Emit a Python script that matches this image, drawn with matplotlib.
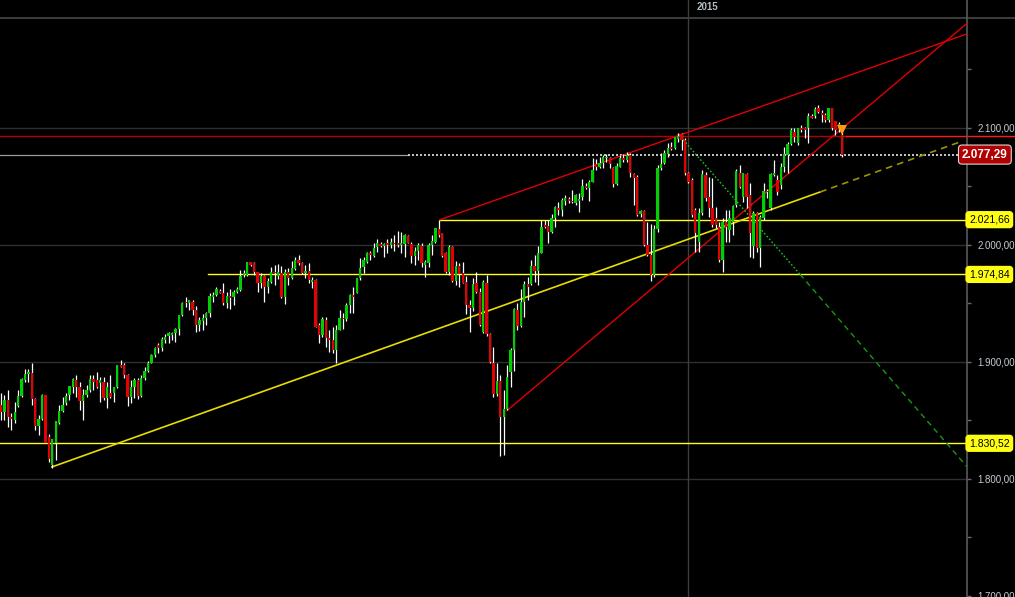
import matplotlib
matplotlib.use("Agg")
import matplotlib.pyplot as plt
from matplotlib.ticker import FixedLocator, FuncFormatter

# ---------------- data (daily candles) ----------------
opens = [
    1863.3, 1857.6, 1867.5, 1852.7, 1850.4, 1862.4, 1870.9, 1884.6, 1889.5, 1890.9,
    1868.1, 1845.6, 1851.0, 1871.8, 1835.6, 1812.0, 1831.1, 1847.6, 1858.1, 1865.2,
    1871.8, 1878.9, 1884.6, 1878.9, 1866.9, 1871.8, 1876.1, 1885.2, 1884.6, 1881.8,
    1883.2, 1869.0, 1873.2, 1873.2, 1878.3, 1897.5, 1897.5, 1888.9, 1870.4, 1878.9,
    1884.6, 1870.9, 1886.1, 1892.6, 1899.4, 1905.7, 1914.5, 1911.7, 1918.8, 1922.2,
    1923.1, 1924.5, 1927.9, 1940.2, 1951.6, 1950.7, 1951.6, 1944.4, 1931.6, 1935.3,
    1937.3, 1942.1, 1955.8, 1957.3, 1961.0, 1959.2, 1950.7, 1956.4, 1955.8, 1960.1,
    1961.5, 1974.4, 1974.4, 1985.2, 1984.3, 1977.2, 1967.2, 1973.5, 1963.8, 1968.6,
    1977.2, 1973.5, 1975.8, 1955.3, 1977.2, 1971.5, 1979.2, 1987.2, 1984.3, 1976.3,
    1978.1, 1968.6, 1970.1, 1931.6, 1923.1, 1935.9, 1920.2, 1918.8, 1910.3, 1927.3,
    1937.9, 1936.5, 1948.7, 1957.3, 1959.3, 1971.5, 1981.2, 1985.8, 1992.9, 1990.6,
    1998.0, 2000.8, 1999.1, 2001.4, 2000.0, 2002.0, 2002.0, 2000.0, 2000.8, 2007.7,
    2000.8, 1990.6, 1995.1, 1999.1, 1982.9, 1984.9, 2000.0, 2002.8, 2013.4, 2010.0,
    1992.9, 1977.2, 1998.6, 1969.5, 1982.0, 1976.3, 1968.6, 1948.7, 1945.9, 1967.8,
    1960.1, 1925.9, 1967.8, 1923.9, 1898.9, 1872.7, 1884.1, 1852.7, 1859.5, 1891.7,
    1910.3, 1944.4, 1930.8, 1951.6, 1966.7, 1966.7, 1982.0, 1978.1, 1993.5, 2017.1,
    2016.2, 2011.4, 2022.8, 2031.3, 2029.9, 2037.6, 2039.3, 2037.6, 2035.6, 2037.6,
    2041.3, 2050.7, 2049.0, 2053.6, 2069.0, 2067.0, 2069.8, 2074.1, 2074.1, 2065.5,
    2051.8, 2067.0, 2074.1, 2072.7, 2076.9, 2060.4, 2058.4, 2026.2, 2029.1, 2000.0,
    1991.5, 1974.4, 2013.7, 2066.1, 2069.8, 2077.5, 2084.0, 2083.2, 2091.0, 2094.6,
    2089.7, 2061.2, 2055.6, 2029.9, 2002.8, 2027.1, 2059.8, 2041.3, 2031.3, 2022.8,
    2015.7, 1987.2, 2019.9, 2012.8, 2019.9, 2034.2, 2061.2, 2041.3, 2060.4, 2042.7,
    1998.9, 2027.1, 1997.2, 2022.8, 2046.2, 2031.3, 2059.8, 2055.6, 2051.3, 2066.9,
    2076.9, 2086.1, 2096.9, 2086.9, 2099.7, 2099.7, 2099.7, 2110.5, 2110.5, 2116.8,
    2112.5, 2111.1, 2106.8, 2116.8, 2106.0, 2100.0, 2094.0,
]
highs = [
    1873.2, 1871.8, 1876.1, 1856.1, 1866.1, 1876.1, 1886.1, 1893.7, 1893.7, 1899.4,
    1868.9, 1854.7, 1872.7, 1871.8, 1838.5, 1833.9, 1849.6, 1862.9, 1869.8, 1873.2,
    1879.5, 1886.1, 1888.9, 1883.2, 1876.6, 1880.3, 1888.9, 1888.9, 1891.7, 1887.5,
    1887.5, 1883.2, 1888.9, 1878.9, 1897.5, 1901.7, 1899.4, 1889.8, 1884.6, 1886.1,
    1886.1, 1888.9, 1896.0, 1901.1, 1906.8, 1913.1, 1916.0, 1921.7, 1923.9, 1925.9,
    1925.9, 1928.8, 1940.2, 1951.6, 1955.8, 1953.0, 1953.0, 1947.8, 1938.2, 1941.0,
    1943.0, 1958.7, 1960.1, 1963.8, 1962.1, 1967.8, 1960.1, 1962.1, 1961.5, 1963.8,
    1978.6, 1978.6, 1985.8, 1985.8, 1985.8, 1977.2, 1975.8, 1974.4, 1971.5, 1981.5,
    1982.9, 1983.7, 1982.0, 1979.2, 1980.1, 1986.6, 1990.0, 1991.5, 1985.8, 1982.9,
    1984.3, 1972.9, 1970.7, 1933.0, 1938.2, 1938.2, 1927.4, 1930.2, 1931.6, 1944.4,
    1941.6, 1950.1, 1958.1, 1964.4, 1971.5, 1988.6, 1990.0, 1994.3, 1995.1, 2001.4,
    2004.8, 2002.8, 2001.4, 2004.8, 2005.7, 2008.5, 2012.2, 2011.4, 2009.4, 2008.5,
    2002.8, 1998.6, 2001.4, 2001.4, 1987.2, 2001.4, 2008.5, 2014.2, 2021.7, 2010.5,
    1994.3, 2000.0, 1999.1, 1986.6, 1984.3, 1985.8, 1973.5, 1953.0, 1971.5, 1977.2,
    1963.0, 1970.1, 1974.4, 1924.5, 1912.5, 1898.9, 1888.9, 1876.1, 1897.4, 1911.7,
    1945.9, 1950.1, 1962.1, 1969.5, 1972.4, 1987.2, 1991.5, 1999.1, 2021.4, 2021.4,
    2021.4, 2026.2, 2033.6, 2037.0, 2040.5, 2042.7, 2041.3, 2047.0, 2043.3, 2044.2,
    2056.4, 2052.7, 2055.6, 2074.1, 2073.5, 2075.5, 2076.9, 2077.5, 2075.5, 2066.9,
    2069.8, 2076.9, 2077.5, 2079.8, 2078.4, 2061.3, 2059.8, 2029.9, 2029.9, 2020.0,
    2017.7, 2017.1, 2068.4, 2078.4, 2081.2, 2086.9, 2088.3, 2092.6, 2095.4, 2095.4,
    2091.2, 2062.7, 2057.0, 2031.3, 2031.3, 2064.1, 2062.1, 2058.4, 2057.0, 2032.8,
    2019.9, 2022.8, 2029.9, 2029.9, 2034.2, 2064.9, 2068.4, 2061.2, 2061.2, 2052.7,
    2029.1, 2028.5, 2025.6, 2052.7, 2048.0, 2061.2, 2072.6, 2059.8, 2069.8, 2084.1,
    2088.3, 2099.7, 2099.7, 2100.3, 2102.6, 2101.1, 2112.5, 2111.7, 2118.2, 2119.7,
    2115.4, 2112.5, 2117.4, 2117.4, 2106.0, 2105.4, 2099.7,
]
lows = [
    1850.4, 1850.4, 1844.7, 1841.9, 1847.6, 1861.8, 1870.4, 1883.2, 1883.2, 1863.3,
    1841.9, 1837.6, 1850.4, 1830.5, 1814.8, 1809.1, 1816.2, 1847.0, 1857.6, 1863.3,
    1867.5, 1873.8, 1869.8, 1859.0, 1850.4, 1870.4, 1874.7, 1876.1, 1877.5, 1866.1,
    1867.5, 1860.4, 1868.9, 1866.1, 1877.5, 1895.4, 1886.1, 1862.4, 1864.7, 1869.0,
    1868.1, 1869.8, 1884.6, 1891.7, 1898.9, 1904.6, 1907.4, 1909.7, 1916.0, 1916.0,
    1918.8, 1917.4, 1923.1, 1939.3, 1947.3, 1944.4, 1940.2, 1925.9, 1926.8, 1927.4,
    1931.6, 1938.2, 1951.6, 1956.4, 1958.7, 1948.7, 1945.9, 1945.0, 1948.7, 1958.7,
    1961.0, 1972.4, 1973.5, 1982.0, 1974.4, 1959.8, 1963.0, 1951.6, 1959.2, 1967.8,
    1965.8, 1970.7, 1954.4, 1949.6, 1965.8, 1970.7, 1978.6, 1982.9, 1975.2, 1971.5,
    1967.8, 1962.9, 1929.6, 1916.5, 1921.7, 1913.1, 1908.8, 1908.0, 1898.9, 1927.3,
    1927.9, 1935.3, 1941.6, 1941.6, 1958.7, 1970.1, 1976.3, 1984.3, 1987.2, 1990.0,
    1994.3, 1998.0, 1990.0, 1993.4, 1997.2, 1995.1, 1998.6, 1992.9, 1990.0, 2001.4,
    1984.9, 1982.9, 1987.2, 1980.9, 1972.4, 1981.5, 1991.5, 2001.4, 2007.1, 1990.0,
    1975.8, 1974.4, 1968.6, 1965.8, 1963.8, 1967.2, 1941.0, 1925.9, 1943.9, 1958.7,
    1930.7, 1925.1, 1922.2, 1899.4, 1870.4, 1870.9, 1819.6, 1820.5, 1858.9, 1878.9,
    1892.6, 1927.4, 1929.6, 1938.2, 1953.0, 1965.8, 1968.6, 1965.8, 1993.4, 2014.2,
    2001.4, 2010.0, 2015.7, 2025.6, 2025.1, 2034.2, 2035.6, 2035.6, 2034.2, 2028.5,
    2038.5, 2048.1, 2037.6, 2053.6, 2064.1, 2065.5, 2065.5, 2070.7, 2065.5, 2049.9,
    2051.3, 2066.9, 2071.3, 2071.3, 2058.4, 2034.2, 2025.1, 2024.2, 1999.4, 1990.9,
    1969.2, 1972.9, 2010.8, 2064.1, 2069.0, 2075.5, 2081.2, 2082.1, 2088.3, 2081.2,
    2059.8, 2052.7, 2024.2, 1994.3, 1994.3, 2025.6, 2037.6, 2024.2, 2015.7, 2014.2,
    1985.8, 1977.2, 2002.8, 2002.8, 2008.5, 2032.8, 2048.4, 2037.0, 2031.3, 1990.0,
    1988.6, 1994.3, 1981.5, 2021.4, 2040.0, 2030.0, 2059.2, 2042.7, 2047.9, 2062.7,
    2061.2, 2085.5, 2088.3, 2085.5, 2096.9, 2091.2, 2086.9, 2108.3, 2108.3, 2112.5,
    2105.4, 2105.4, 2105.4, 2098.3, 2094.0, 2096.9, 2075.5,
]
closes = [
    1857.6, 1867.5, 1852.7, 1851.0, 1857.6, 1870.9, 1885.2, 1889.5, 1891.7, 1868.1,
    1845.6, 1851.0, 1871.8, 1831.1, 1817.1, 1833.9, 1849.6, 1858.4, 1863.3, 1870.9,
    1879.5, 1885.8, 1878.9, 1866.9, 1871.8, 1876.1, 1885.2, 1883.2, 1878.9, 1884.6,
    1869.0, 1878.9, 1869.8, 1878.3, 1897.5, 1896.0, 1888.9, 1870.4, 1878.3, 1884.6,
    1870.9, 1886.1, 1892.6, 1898.9, 1905.7, 1911.7, 1912.0, 1919.4, 1921.1, 1924.5,
    1925.1, 1927.9, 1940.2, 1950.7, 1950.1, 1953.0, 1944.4, 1931.6, 1935.9, 1937.3,
    1941.6, 1956.4, 1957.3, 1962.1, 1959.2, 1950.7, 1956.4, 1954.4, 1960.1, 1962.1,
    1973.5, 1976.3, 1985.2, 1982.9, 1977.2, 1967.2, 1973.5, 1963.8, 1969.5, 1977.2,
    1975.8, 1977.2, 1955.3, 1977.2, 1971.5, 1980.1, 1987.2, 1984.9, 1976.3, 1978.1,
    1970.1, 1970.1, 1930.2, 1923.1, 1936.5, 1920.2, 1918.8, 1910.3, 1927.4, 1937.3,
    1936.5, 1948.7, 1957.3, 1955.8, 1971.5, 1980.1, 1987.2, 1992.9, 1991.5, 1997.2,
    2001.4, 1999.1, 2000.8, 2000.0, 2002.8, 2000.8, 2000.0, 2001.4, 2008.5, 2002.0,
    1990.6, 1995.1, 2000.0, 1984.9, 1985.8, 2000.0, 2003.7, 2014.2, 2008.5, 1990.6,
    1977.2, 1998.6, 1969.5, 1982.0, 1975.2, 1967.8, 1948.7, 1945.9, 1966.7, 1960.1,
    1931.6, 1968.6, 1923.9, 1900.3, 1872.7, 1884.1, 1852.7, 1859.5, 1886.9, 1910.3,
    1945.0, 1930.8, 1951.6, 1966.7, 1964.4, 1982.0, 1978.1, 1993.5, 2015.1, 2015.7,
    2011.4, 2022.8, 2032.8, 2029.9, 2038.5, 2039.9, 2037.6, 2036.5, 2042.7, 2039.3,
    2050.7, 2049.0, 2054.1, 2064.1, 2067.0, 2069.8, 2075.5, 2075.5, 2069.0, 2051.8,
    2067.8, 2074.1, 2072.7, 2076.9, 2061.2, 2057.6, 2025.6, 2029.1, 2000.0, 1991.5,
    1974.4, 2013.7, 2066.1, 2068.9, 2078.4, 2083.2, 2082.0, 2092.6, 2093.0, 2089.7,
    2061.2, 2054.1, 2025.6, 2010.0, 2027.1, 2060.4, 2039.9, 2031.3, 2017.1, 2017.1,
    1987.2, 2019.9, 2015.7, 2022.8, 2033.6, 2063.2, 2049.9, 2061.2, 2041.3, 2010.0,
    2027.1, 1997.2, 2024.2, 2046.2, 2045.0, 2060.4, 2061.2, 2045.6, 2066.9, 2077.5,
    2086.1, 2098.3, 2092.6, 2099.7, 2098.3, 2098.3, 2110.5, 2108.8, 2116.2, 2114.0,
    2111.1, 2106.8, 2116.8, 2099.7, 2098.3, 2103.1, 2077.29,
]
assert len(opens) == len(highs) == len(lows) == len(closes)

year_label = "2015"
year_start_index = 201           # first candle of 2015
last_price = 2077.29
major_ticks = [1700, 1800, 1900, 2000, 2100]
minor_ticks = [1750, 1850, 1950, 2050, 2150]
levels = [2021.66, 1974.84, 1830.52]          # yellow horizontal levels
level_start_index = [128.4, 60.5, -0.3]       # where each level line begins
red_level = 2093.2
# trend lines: (candle index, price) anchors
yellow_trend = [(14.9, 1810.3), (239.5, 2045.3), (281.0, 2088.7)]
red_trend_steep = [(147.9, 1858.4), (282.5, 2189.6)]
red_trend_upper = [(128.4, 2021.66), (282.5, 2180.5)]
green_trend = [(198.0, 2094.9), (233.6, 1975.0), (282.5, 1810.3)]


def de_fmt(v, pos=None):
    s = f"{v:,.2f}"
    return s.replace(",", "X").replace(".", ",").replace("X", ".")


# ---------------- figure ----------------
W, H = 1015, 597
fig = plt.figure(figsize=(W / 100, H / 100), dpi=100, facecolor="black")
axw = 967 / W
ax = fig.add_axes([0, 0, axw, 1], facecolor="black")

px_per_idx = 3.42
px_per_pt = 1.17
x_lo = (0 - 1) / px_per_idx
x_hi = (967 - 1) / px_per_idx
y_top = 2100 + 128 / px_per_pt
y_bot = 2100 - (597 - 128) / px_per_pt
ax.set_xlim(x_lo, x_hi)
ax.set_ylim(y_bot, y_top)
x_far = (W - 1) / px_per_idx


def xi(px):
    return (px - 1) / px_per_idx


# grid
for g in [1800, 1900, 2000, 2100]:
    ax.axhline(g, color="#2f2f2f", lw=1, zorder=1)
# header separator
ax.axhline(2100 + (128 - 18) / px_per_pt, xmin=0, xmax=W / 967, color="#474747",
           lw=1.2, clip_on=False, zorder=1)
ax.axvline(year_start_index - 0.05, color="#3d3d3d", lw=1, zorder=1)
ax.text(xi(697), 2100 + (128 - 7) / px_per_pt, year_label, color="#b4bcc4",
        fontsize=7, fontweight="bold", va="center", ha="left",
        family=["Liberation Sans", "DejaVu Sans"])

# horizontal lines
ax.plot([x_lo, year_start_index + 46], [red_level, red_level], color="#b00000", lw=1, zorder=2)
ax.plot([year_start_index + 46, x_far], [red_level, red_level], color="#ff1a1a", lw=1,
        zorder=2, clip_on=False)
ax.plot([x_lo, xi(408)], [last_price, last_price], color="#9a9a9a", lw=0.9, zorder=2)
ax.plot([xi(408), xi(958)], [last_price, last_price], color="#e8e8e8", lw=1.2,
        ls=(0, (1.2, 1.2)), zorder=2)
for lv, st in zip(levels, level_start_index):
    ax.plot([st, x_hi], [lv, lv], color="#ffff1a", lw=1, zorder=2)

# trend lines
ax.plot([p[0] for p in yellow_trend[:2]], [p[1] for p in yellow_trend[:2]],
        color="#e8dc00", lw=1.2, zorder=3)
ax.plot([p[0] for p in yellow_trend[1:]], [p[1] for p in yellow_trend[1:]],
        color="#9a9400", lw=1.2, ls=(0, (4, 3)), zorder=3)
ax.plot([p[0] for p in red_trend_steep], [p[1] for p in red_trend_steep],
        color="#e00000", lw=1, zorder=3)
ax.plot([p[0] for p in red_trend_upper], [p[1] for p in red_trend_upper],
        color="#e00000", lw=1, zorder=3)
ax.plot([p[0] for p in green_trend[:2]], [p[1] for p in green_trend[:2]],
        color="#22c022", lw=1, ls=(0, (1.2, 1.5)), zorder=3)
ax.plot([p[0] for p in green_trend[1:]], [p[1] for p in green_trend[1:]],
        color="#149a14", lw=1, ls=(0, (4, 3)), zorder=3)

# candles
idx = list(range(len(opens)))
ax.vlines(idx, lows, highs, color="white", lw=0.9, zorder=4)
bottoms = [min(o, c) for o, c in zip(opens, closes)]
heights = [max(abs(c - o), 0.9) for o, c in zip(opens, closes)]
cols = ["#00d000" if c >= o else "#e80000" for o, c in zip(opens, closes)]
ax.bar(idx, heights, bottom=bottoms, width=0.68, color=cols, linewidth=0, zorder=5)

# last-candle marker
ax.plot([len(opens) - 1], [highs[-1] - 1.0], marker="v", color="#ff9a10",
        markersize=7, zorder=6, markeredgewidth=0)

# axis styling
for s in ["left", "top", "bottom"]:
    ax.spines[s].set_visible(False)
ax.spines["right"].set_color("#5a5a5a")
ax.spines["right"].set_linewidth(1.2)
ax.xaxis.set_visible(False)
ax.yaxis.tick_right()
ax.yaxis.set_major_locator(FixedLocator(major_ticks))
ax.yaxis.set_minor_locator(FixedLocator(minor_ticks))
ax.yaxis.set_major_formatter(FuncFormatter(de_fmt))
ax.tick_params(axis="y", which="both", colors="#6a6a6a", length=3, width=1,
               labelcolor="#c4ccd4", labelsize=7, pad=4.5)
for lab in ax.get_yticklabels():
    lab.set_family(["Liberation Sans", "DejaVu Sans"])

# value labels on the right
for lv in levels:
    ax.text(xi(969), lv, de_fmt(lv), color="black", fontsize=7.5, va="center",
            ha="left", clip_on=False, zorder=7, family=["Liberation Sans", "DejaVu Sans"],
            bbox=dict(boxstyle="round,pad=0.28", fc="#ffff14", ec="#ffff14"))
ax.text(xi(962), last_price, de_fmt(last_price), color="white", fontsize=8.5,
        fontweight="bold", va="center", ha="left", clip_on=False, zorder=7,
        family=["Liberation Sans", "DejaVu Sans"],
        bbox=dict(boxstyle="round,pad=0.3", fc="#b00000", ec="#d8d8d8", lw=0.8))

fig.savefig("out.png", dpi=100, facecolor="black")
